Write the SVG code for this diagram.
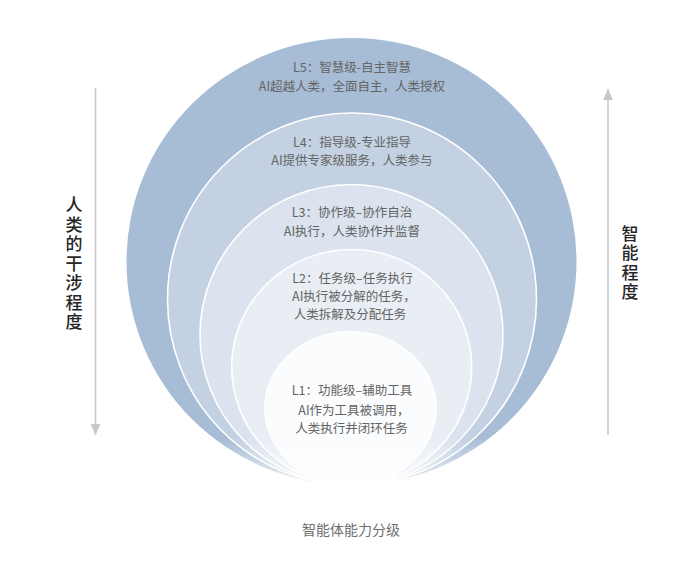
<svg xmlns="http://www.w3.org/2000/svg" width="700" height="575" viewBox="0 0 700 575">
<style>
.lvl{font-family:"Noto Sans CJK SC","Noto Sans",sans-serif;font-size:12.5px;fill:#646464;text-anchor:middle}
.axis{font-family:"Noto Sans CJK SC","Noto Sans",sans-serif;font-size:17px;font-weight:500;fill:#262626;writing-mode:vertical-rl;letter-spacing:2.5px}
.cap{font-family:"Noto Sans CJK SC","Noto Sans",sans-serif;font-size:14px;fill:#6f6f6f;text-anchor:middle}
.ring{stroke:#ffffff;stroke-width:1.6}
.arr{stroke:#c6c8cb;stroke-width:1.6;fill:none}
</style>
<defs>
<marker id="ah" markerUnits="userSpaceOnUse" markerWidth="12" markerHeight="10" refX="11" refY="5" orient="auto">
<path d="M0,0 L11,5 L0,10 Z" fill="#c6c8cb"/>
</marker>
<linearGradient id="fade" x1="0" y1="0" x2="0" y2="1">
<stop offset="0" stop-color="#ffffff" stop-opacity="0"/>
<stop offset="0.6" stop-color="#ffffff" stop-opacity="0.55"/>
<stop offset="1" stop-color="#ffffff" stop-opacity="1"/>
</linearGradient>
</defs>
<rect width="700" height="575" fill="#ffffff"/>

<g id="L5">
<ellipse cx="351.5" cy="261.5" rx="225" ry="223.5" fill="#a7bcd5"/>
<text class="lvl" x="352" y="72">L5：智慧级-自主智慧</text>
<text class="lvl" x="352" y="91">AI超越人类，全面自主，人类授权</text>
</g>
<g id="L4">
<ellipse class="ring" cx="352" cy="299" rx="184.5" ry="186" fill="#c3d1e2"/>
<text class="lvl" x="352" y="147">L4：指导级-专业指导</text>
<text class="lvl" x="352" y="165">AI提供专家级服务，人类参与</text>
</g>
<g id="L3">
<ellipse class="ring" cx="351.5" cy="334.75" rx="151.5" ry="150.25" fill="#dae3ee"/>
<text class="lvl" x="352" y="217">L3：协作级–协作自治</text>
<text class="lvl" x="352" y="236">AI执行，人类协作并监督</text>
</g>
<g id="L2">
<ellipse class="ring" cx="351.7" cy="367.25" rx="120" ry="117.75" fill="#e9eef5"/>
<text class="lvl" x="352.5" y="282.5">L2：任务级–任务执行</text>
<text class="lvl" x="354" y="300.5">AI执行被分解的任务，</text>
<text class="lvl" x="350" y="318.8">人类拆解及分配任务</text>
</g>
<g id="L1">
<ellipse class="ring" cx="350.5" cy="408.35" rx="85.5" ry="76.65" fill="#fbfcfe"/>
<text class="lvl" x="352" y="395">L1：功能级–辅助工具</text>
<text class="lvl" x="354" y="415">AI作为工具被调用，</text>
<text class="lvl" x="351.5" y="433.3">人类执行并闭环任务</text>
</g>
<rect x="110" y="438" width="480" height="55" fill="url(#fade)"/>

<g id="connectors">
<line class="arr" x1="95.5" y1="88" x2="95.5" y2="435" marker-end="url(#ah)"/>
<line class="arr" x1="608" y1="435" x2="608" y2="89" marker-end="url(#ah)"/>
</g>

<g id="axis-left">
<text class="axis" x="74" y="196.5">人类的干涉程度</text>
</g>
<g id="axis-right">
<text class="axis" x="630" y="225">智能程度</text>
</g>
<g id="caption">
<text class="cap" x="351" y="535">智能体能力分级</text>
</g>
</svg>
